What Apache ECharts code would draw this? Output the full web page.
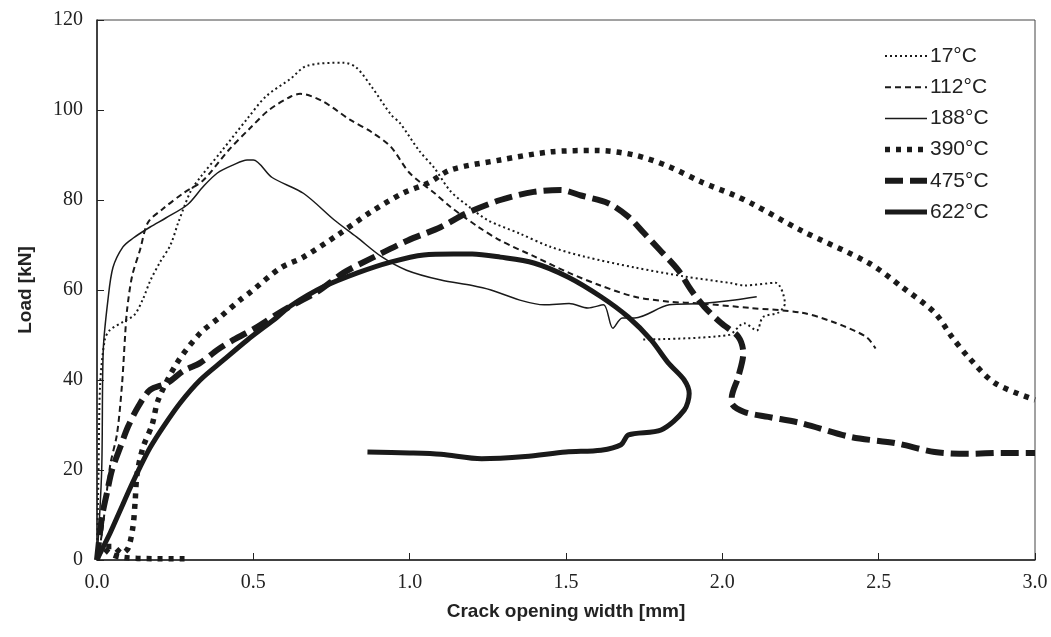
<!DOCTYPE html>
<html>
<head>
<meta charset="utf-8">
<script src="https://cdn.jsdelivr.net/npm/echarts@6/dist/echarts.min.js"></script>
<style>html,body{margin:0;padding:0;background:#fff}#c{width:1051px;height:637px}</style>
</head>
<body>
<div id="c"></div>
<script>
const seriesNames = ['17°C','112°C','188°C','390°C','475°C','622°C'];
const xTicks = ['0.0','0.5','1.0','1.5','2.0','2.5','3.0'];
const yTicks = [0,20,40,60,80,100,120];

const d17 = [[0,0],[0.005,20],[0.01,39],[0.025,49],[0.04,51],[0.085,53],[0.12,54.5],[0.147,58],[0.17,62],[0.2,66],[0.235,70],[0.26,75],[0.3,82],[0.33,85],[0.4,91],[0.48,98],[0.54,103],[0.62,107],[0.67,109.8],[0.79,110.5],[0.83,109.4],[0.88,105],[0.94,99],[0.97,97],[1.03,91],[1.08,87],[1.13,82],[1.19,78.5],[1.25,75.5],[1.35,72.6],[1.45,69.6],[1.56,67.4],[1.72,65],[1.88,63],[2.03,61.5],[2.07,61],[2.17,61.6],[2.2,57],[2.18,55],[2.13,54],[2.11,51],[2.07,52.6],[2.02,50],[1.74,49]];
const d112 = [[0,0],[0.016,6],[0.042,21],[0.064,28],[0.08,39],[0.09,50],[0.096,55.5],[0.112,63],[0.138,69],[0.163,75],[0.21,78],[0.276,81.5],[0.34,84.4],[0.42,91],[0.49,96],[0.55,100],[0.62,103],[0.65,103.6],[0.72,102],[0.81,97.8],[0.88,95],[0.94,91.8],[1.0,86],[1.08,81.5],[1.13,78.5],[1.22,74],[1.29,71],[1.4,67.4],[1.51,63.8],[1.61,61],[1.72,58.5],[1.83,57.4],[1.93,57],[2.09,56],[2.25,55],[2.35,53],[2.46,49.6],[2.49,47]];
const d188 = [[0,0],[0.015,20],[0.02,46.7],[0.035,57.8],[0.051,65],[0.083,69.6],[0.115,71.5],[0.17,74],[0.22,76],[0.29,79],[0.34,83],[0.385,86],[0.436,87.8],[0.48,88.9],[0.5,88.9],[0.56,85],[0.66,81.5],[0.76,75.5],[0.83,71.8],[0.91,67.4],[0.99,64.4],[1.1,62.2],[1.2,61],[1.26,60],[1.35,57.8],[1.43,56.7],[1.51,57],[1.57,56],[1.62,56.7],[1.65,51.5],[1.68,53.8],[1.72,53.8],[1.83,56.7],[1.93,57],[2.04,57.8],[2.11,58.5]];
const d390 = [[0.28,0.3],[0.18,0.3],[0.08,0.6],[0.04,1.5],[0.02,3],[0.05,3],[0.08,1.5],[0.1,2.7],[0.115,7.4],[0.122,13],[0.128,19],[0.147,25],[0.176,30],[0.196,35.6],[0.256,43.8],[0.33,50.4],[0.394,54],[0.458,57.8],[0.49,59.5],[0.587,64.9],[0.66,67.3],[0.769,72.2],[0.875,77.3],[0.978,81.5],[1.06,83.8],[1.131,86.7],[1.29,88.9],[1.452,90.7],[1.6,91],[1.718,90],[1.827,87.5],[1.933,84],[2.04,81],[2.1,79],[2.25,73.3],[2.468,66],[2.574,60.7],[2.68,54.9],[2.734,49.6],[2.788,45],[2.872,39.3],[3.0,35.6]];
const d475 = [[0,0],[0.016,9.6],[0.032,15],[0.048,20],[0.074,25],[0.099,29.6],[0.131,34],[0.17,37.8],[0.224,39.3],[0.276,42],[0.33,43.8],[0.385,46.7],[0.436,48.9],[0.513,51.8],[0.596,55.5],[0.705,59.6],[0.788,63.8],[0.885,67.3],[0.994,71],[1.1,74],[1.18,77],[1.29,80],[1.397,81.8],[1.484,82.2],[1.548,81],[1.635,79.3],[1.699,76.3],[1.75,72.6],[1.8,68.9],[1.859,64.4],[1.9,60],[1.942,56.3],[1.997,52.6],[2.051,49.6],[2.067,46],[2.051,40.7],[2.03,36],[2.03,34.9],[2.07,32.9],[2.147,31.8],[2.253,30.4],[2.413,27.3],[2.551,26],[2.679,24],[2.788,23.6],[2.894,23.8],[3.0,23.8]];
const d622 = [[0,0],[0.01,1.5],[0.042,6],[0.074,11],[0.106,16],[0.138,20.7],[0.17,25],[0.212,29.6],[0.266,34.9],[0.33,40],[0.404,44.4],[0.481,48.9],[0.577,54],[0.62,56.5],[0.724,60.7],[0.833,63.8],[0.939,66.2],[1.045,67.8],[1.14,68],[1.2,68],[1.29,67.3],[1.397,66],[1.506,62.9],[1.612,58.5],[1.699,54],[1.772,48.9],[1.827,43.8],[1.878,40],[1.894,37],[1.878,33.3],[1.804,28.9],[1.7,27.8],[1.676,25.6],[1.612,24.4],[1.5,24],[1.37,23],[1.23,22.5],[1.1,23.5],[1.0,23.8],[0.865,24]];

const seriesData = [d17,d112,d188,d390,d475,d622];
const styles = [
  {width:2, dash:[2,3]},
  {width:2, dash:[6,4]},
  {width:1.5, dash:null},
  {width:5.5, dash:[5,6]},
  {width:6, dash:[18,7]},
  {width:5, dash:null}
];
const INK = '#1a1a1a';

// legend drawn as graphics (line sample + label)
const legendLeft = 885, legendTop = 56, legendStep = 31.2, sampleLen = 42;
const legendGraphics = [];
seriesNames.forEach((n,i)=>{
  const y = legendTop + i*legendStep;
  const st = styles[i];
  legendGraphics.push({
    type:'line', silent:true,
    shape:{x1:legendLeft, y1:y, x2:legendLeft+sampleLen, y2:y},
    style:{stroke:INK, lineWidth:st.width, lineDash:st.dash||null, lineCap:'butt'}
  });
  legendGraphics.push({
    type:'text', silent:true, x:legendLeft+sampleLen+3, y:y,
    style:{text:n, fill:'#222', font:'21px "Liberation Sans"', textVerticalAlign:'middle', verticalAlign:'middle'}
  });
});

const chart = echarts.init(document.getElementById('c'), null, {renderer:'canvas'});
chart.setOption({
  animation:false,
  backgroundColor:'#fff',
  grid:{left:97,right:16,top:20,bottom:77,show:true,borderColor:'#444',borderWidth:1,backgroundColor:'transparent'},
  xAxis:{
    type:'value', min:0, max:3, interval:0.5,
    name:'Crack opening width [mm]', nameLocation:'middle', nameGap:42,
    nameTextStyle:{fontFamily:'Liberation Sans', fontWeight:'bold', fontSize:19, color:'#222'},
    axisLine:{lineStyle:{color:'#222',width:1.5}},
    axisTick:{inside:true,length:7,lineStyle:{color:'#222'}},
    axisLabel:{fontFamily:'Liberation Serif', fontSize:20, color:'#222', margin:13,
      formatter:(v)=>xTicks[Math.round(v/0.5)]},
    splitLine:{show:false}
  },
  yAxis:{
    type:'value', min:0, max:120, interval:20,
    name:'Load [kN]', nameLocation:'middle', nameGap:62,
    nameTextStyle:{fontFamily:'Liberation Sans', fontWeight:'bold', fontSize:19, color:'#222'},
    axisLine:{show:true,lineStyle:{color:'#222',width:1.5}},
    axisTick:{show:true,inside:true,length:7,lineStyle:{color:'#222'}},
    axisLabel:{fontFamily:'Liberation Serif', fontSize:20, color:'#222', margin:14,
      formatter:(v)=>String(yTicks[Math.round(v/20)])},
    splitLine:{show:false}
  },
  graphic: legendGraphics,
  series: seriesNames.map((n,i)=>({
    name:n, type:'line', data:seriesData[i], showSymbol:false, symbol:'none',
    smooth:0.3, clip:true,
    lineStyle:{color:INK, width:styles[i].width, type:styles[i].dash||'solid', cap:'butt', join:'round'},
    itemStyle:{color:INK}
  }))
});
</script>
</body>
</html>
